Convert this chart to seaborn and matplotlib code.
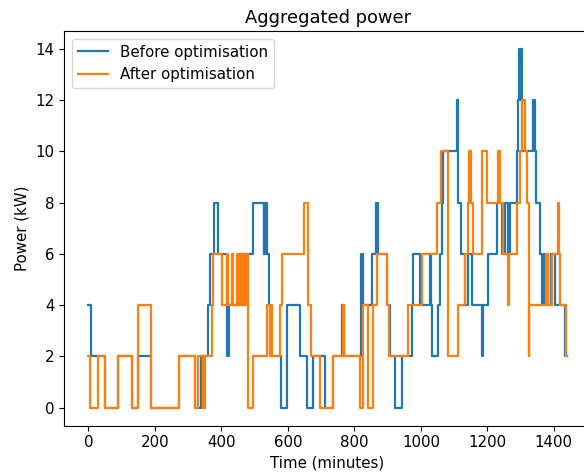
import pandas as pd
import matplotlib
matplotlib.use('Agg')
import matplotlib.pyplot as plt
import seaborn as sns

# step change points (minute, kW)
before_t = [0, 7, 50, 88, 130, 150, 190, 272, 321, 340, 359, 366, 378, 391, 416, 418, 424,
            476, 494, 527, 529, 531, 533, 536, 544, 547, 580, 597, 637, 657, 675, 712, 737,
            762, 768, 820, 825, 852, 865, 870, 897, 907, 922, 942, 972, 977, 997, 1028, 1031,
            1035, 1053, 1058, 1063, 1068, 1108, 1113, 1121, 1133, 1141, 1153, 1183, 1188, 1203,
            1228, 1245, 1252, 1262, 1268, 1288, 1291, 1294, 1297, 1299, 1303, 1338, 1342, 1346,
            1357, 1365, 1370, 1374, 1378, 1382, 1392, 1404, 1434, 1439]
before_kw = [4, 2, 0, 2, 0, 2, 0, 2, 0, 2, 4, 6, 8, 6, 4, 2, 4,
             6, 8, 6, 8, 6, 8, 6, 4, 2, 0, 4, 2, 0, 2, 0, 2,
             4, 2, 6, 4, 6, 8, 6, 4, 2, 0, 2, 4, 6, 4, 6, 4,
             2, 4, 6, 8, 10, 12, 8, 6, 4, 6, 4, 2, 4, 6,
             8, 6, 8, 6, 8, 10, 12, 14, 12, 14, 10, 12, 10, 8,
             6, 4, 6, 4, 6, 4, 6, 4, 2, 2]

after_t = [0, 5, 30, 50, 88, 130, 150, 190, 272, 321, 331, 346, 351, 371, 375, 401, 416, 421,
           431, 436, 446, 451, 456, 461, 466, 471, 476, 481, 494, 536, 546, 549, 553, 577, 583,
           649, 662, 669, 697, 737, 765, 770, 817, 827, 842, 855, 869, 899, 905, 962, 1003,
           1048, 1060, 1081, 1111, 1133, 1143, 1146, 1150, 1158, 1183, 1198, 1233, 1238, 1248,
           1263, 1266, 1290, 1298, 1303, 1314, 1318, 1324, 1325, 1378, 1384, 1395, 1413, 1417,
           1420, 1436, 1439]
after_kw = [2, 0, 2, 0, 2, 0, 4, 0, 2, 0, 2, 0, 2, 4, 6, 4, 6, 4,
            6, 4, 6, 4, 6, 4, 6, 4, 6, 0, 2, 4, 2, 4, 2, 4, 6,
            8, 4, 2, 0, 2, 4, 2, 0, 4, 0, 4, 6, 4, 2, 4, 6,
            8, 10, 2, 4, 6, 8, 10, 8, 6, 10, 8, 10, 8, 6,
            4, 6, 8, 10, 12, 10, 8, 2, 4, 6, 4, 6, 8, 6,
            4, 2, 2]

before = pd.DataFrame({'time': before_t, 'power': before_kw})
after = pd.DataFrame({'time': after_t, 'power': after_kw})

plt.rcParams['font.size'] = 10.8
plt.rcParams['axes.titlesize'] = 12.9

fig = plt.figure(figsize=(5.84, 4.72), dpi=100)
ax = fig.add_axes([64.4 / 584, 1 - 425.6 / 472, 526.3 / 584, 394.6 / 472])

sns.lineplot(data=before, x='time', y='power', ax=ax, color='#1f77b4',
             label='Before optimisation', drawstyle='steps-post', estimator=None, linewidth=1.6)
sns.lineplot(data=after, x='time', y='power', ax=ax, color='#ff7f0e',
             label='After optimisation', drawstyle='steps-post', estimator=None, linewidth=1.6)

ax.set_title('Aggregated power')
ax.set_xlabel('Time (minutes)')
ax.set_ylabel('Power (kW)')
ax.legend(loc='upper left')

fig.savefig('out.png', dpi=100)
